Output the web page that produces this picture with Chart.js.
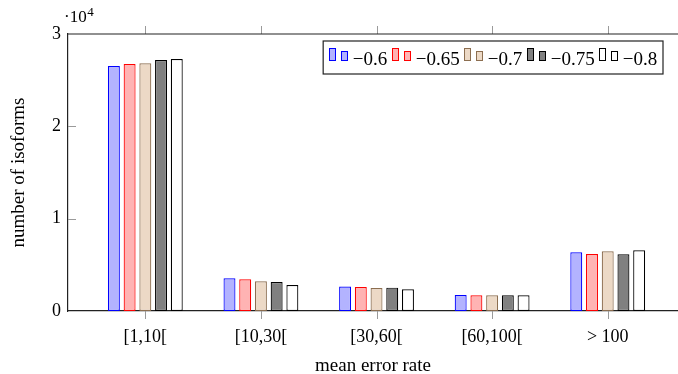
<!DOCTYPE html>
<html>
<head>
<meta charset="utf-8">
<script src="https://cdn.jsdelivr.net/npm/chart.js@4.4.1/dist/chart.umd.min.js"></script>
<style>
  html, body { margin: 0; padding: 0; background: #fff; }
  #contenedor { width: 678px; height: 374px; }
</style>
</head>
<body>
<div id="contenedor"><canvas id="grafico"></canvas></div>
<script>
// Categorias del eje x (tasa de error media)
const categorias = ['[1,10[', '[10,30[', '[30,60[', '[60,100[', '> 100'];

// Umbrales de la leyenda
const umbrales = ['−0.6', '−0.65', '−0.7', '−0.75', '−0.8'];

// Numero de isoformas por umbral
const serie06 = [26530, 3540, 2640, 1730, 6360];
const serie065 = [26750, 3430, 2600, 1700, 6170];
const serie07 = [26830, 3220, 2490, 1700, 6470];
const serie075 = [27180, 3140, 2530, 1700, 6140];
const serie08 = [27290, 2820, 2350, 1700, 6570];

// Marcas del eje y
const ticksY = [0, 10000, 20000, 30000];

const fuente = '"Liberation Serif", "Times New Roman", serif';

const estilos = [
    { fondo: '#b3b3ff', borde: '#0000ff' },
    { fondo: '#ffb3b3', borde: '#ff0000' },
    { fondo: '#ecd9c6', borde: '#8c6e50' },
    { fondo: '#808080', borde: '#000000' },
    { fondo: '#ffffff', borde: '#000000' }
];

const series = [serie06, serie065, serie07, serie075, serie08];

const datasets = series.map((valores, i) => ({
    label: umbrales[i],
    data: valores.map((v, j) => ({ x: j, y: v })),
    backgroundColor: estilos[i].fondo,
    borderColor: estilos[i].borde,
    borderWidth: 1.2,
    borderSkipped: false,
    categoryPercentage: 0.68,
    barPercentage: 0.76
}));

function linea(ctx, x1, y1, x2, y2) {
    ctx.beginPath();
    ctx.moveTo(x1, y1);
    ctx.lineTo(x2, y2);
    ctx.stroke();
}

// Marco superior, marcas de los ejes y factor 10^4
const marcoPlugin = {
    id: 'marco',
    afterDraw(chart) {
        const { ctx, chartArea: a, scales: { x, y } } = chart;
        ctx.save();
        ctx.strokeStyle = '#9a9a9a';
        ctx.lineWidth = 1;
        x.ticks.forEach(t => {
            const px = Math.round(x.getPixelForValue(t.value)) + 0.5;
            linea(ctx, px, a.bottom, px, a.bottom + 8);
            linea(ctx, px, a.top - 8, px, a.top);
        });
        y.ticks.forEach(t => {
            if (t.value <= 0 || t.value >= 30000) return;
            const py = Math.round(y.getPixelForValue(t.value)) + 0.5;
            linea(ctx, a.left, py, a.left + 8, py);
        });

        ctx.strokeStyle = '#222';
        ctx.lineWidth = 1.2;
        linea(ctx, a.left, a.top, a.right, a.top);

        ctx.fillStyle = '#000';
        ctx.textBaseline = 'alphabetic';
        ctx.font = '17px ' + fuente;
        ctx.fillText('·10', a.left - 4, a.top - 12);
        const w = ctx.measureText('·10').width;
        ctx.font = '13px ' + fuente;
        ctx.fillText('4', a.left - 4 + w + 0.5, a.top - 18);
        ctx.restore();
    }
};

// Leyenda con recuadro dentro del area del grafico
const leyendaPlugin = {
    id: 'leyenda',
    afterDraw(chart) {
        const { ctx, chartArea: a } = chart;
        const ds = chart.data.datasets;
        ctx.save();
        ctx.font = '19px ' + fuente;
        const anchoIcono = 18, sepTexto = 5.3, sepItem = 5, margen = 6;
        const anchos = ds.map(d => ctx.measureText(d.label).width);
        const total = anchos.reduce((s, w) => s + anchoIcono + sepTexto + w, 0) + sepItem * (ds.length - 1);
        const derecha = a.right - 15;
        const izq = derecha - total - margen * 2;
        const arriba = a.top + 7, abajo = a.top + 40;

        ctx.fillStyle = '#fff';
        ctx.fillRect(izq, arriba, derecha - izq, abajo - arriba);
        ctx.strokeStyle = '#222';
        ctx.lineWidth = 1.2;
        ctx.strokeRect(izq, arriba, derecha - izq, abajo - arriba);

        let x = Math.round(izq + margen) + 0.5;
        ds.forEach((d, i) => {
            ctx.fillStyle = d.backgroundColor;
            ctx.strokeStyle = d.borderColor;
            ctx.lineWidth = 1;
            ctx.fillRect(x, a.top + 14.5, 6, 12);
            ctx.strokeRect(x, a.top + 14.5, 6, 12);
            ctx.fillRect(x + 12, a.top + 17.5, 6, 9);
            ctx.strokeRect(x + 12, a.top + 17.5, 6, 9);
            ctx.fillStyle = '#000';
            ctx.textBaseline = 'alphabetic';
            ctx.fillText(d.label, x + anchoIcono + sepTexto, a.top + 30.5);
            x += Math.round(anchoIcono + sepTexto + anchos[i] + sepItem);
        });
        ctx.restore();
    }
};

const chart = new Chart(document.getElementById('grafico'), {
    type: 'bar',
    data: { datasets: datasets },
    options: {
        responsive: true,
        maintainAspectRatio: false,
        animation: false,
        devicePixelRatio: 1,
        layout: { padding: { top: 34, right: 0, left: 0, bottom: 0 } },
        plugins: {
            legend: { display: false },
            tooltip: { enabled: false }
        },
        scales: {
            x: {
                type: 'linear',
                offset: false,
                min: -0.669,
                max: 4.608,
                afterBuildTicks: (s) => {
                    s.ticks = categorias.map((c, i) => ({ value: i }));
                },
                afterFit: (s) => { s.height = 63; },
                grid: { display: false, drawTicks: false },
                border: { display: true, color: '#222', width: 1.2 },
                ticks: {
                    autoSkip: false,
                    maxRotation: 0,
                    padding: 15,
                    color: '#000',
                    font: { size: 18, family: fuente },
                    callback: (v) => categorias[v]
                },
                title: {
                    display: true,
                    text: 'mean error rate',
                    color: '#000',
                    padding: { top: 0, bottom: -2 },
                    font: { size: 19, family: fuente, lineHeight: 1 }
                }
            },
            y: {
                min: 0,
                max: 30000,
                afterBuildTicks: (s) => {
                    s.ticks = ticksY.map(v => ({ value: v }));
                },
                afterFit: (s) => { s.width = 68; },
                grid: { display: false, drawTicks: false },
                border: { display: true, color: '#222', width: 1.2 },
                ticks: {
                    padding: 7,
                    color: '#000',
                    font: { size: 18, family: fuente },
                    callback: (v) => v / 10000
                },
                title: {
                    display: true,
                    text: 'number of isoforms',
                    color: '#000',
                    padding: { top: 8, bottom: 0 },
                    font: { size: 19, family: fuente }
                }
            }
        }
    },
    plugins: [marcoPlugin, leyendaPlugin]
});
</script>
</body>
</html>
